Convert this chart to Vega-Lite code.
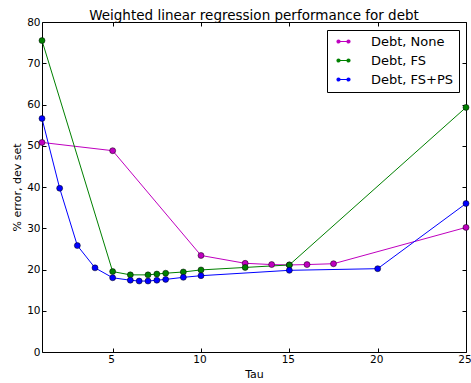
{
  "$schema": "https://vega.github.io/schema/vega-lite/v6.json",
  "width": 424,
  "height": 330,
  "autosize": {"type": "none"},
  "padding": {"left": 42, "top": 22, "right": 5, "bottom": 31},
  "background": "white",
  "title": {"text": "Weighted linear regression performance for debt", "font": "DejaVu Sans", "fontSize": 13.5, "fontWeight": "normal", "color": "black", "offset": 5, "dy": 10},
  "config": {
    "view": {"stroke": "black", "strokeWidth": 1},
    "axis": {"labelFont": "DejaVu Sans", "titleFont": "DejaVu Sans", "labelFontSize": 10.5, "titleFontSize": 11, "titleFontWeight": "normal", "labelColor": "black", "titleColor": "black", "tickColor": "black", "domain": false, "grid": false, "labelFlush": false}
  },
  "data": {"values": [
    {"series": "Debt, None", "tau": 1, "err": 50.8},
    {"series": "Debt, None", "tau": 5, "err": 48.8},
    {"series": "Debt, None", "tau": 10, "err": 23.4},
    {"series": "Debt, None", "tau": 12.5, "err": 21.5},
    {"series": "Debt, None", "tau": 14, "err": 21.2},
    {"series": "Debt, None", "tau": 15, "err": 21.1},
    {"series": "Debt, None", "tau": 16, "err": 21.2},
    {"series": "Debt, None", "tau": 17.5, "err": 21.4},
    {"series": "Debt, None", "tau": 25, "err": 30.2},
    {"series": "Debt, FS", "tau": 1, "err": 75.5},
    {"series": "Debt, FS", "tau": 5, "err": 19.5},
    {"series": "Debt, FS", "tau": 6, "err": 18.7},
    {"series": "Debt, FS", "tau": 7, "err": 18.7},
    {"series": "Debt, FS", "tau": 7.5, "err": 18.9},
    {"series": "Debt, FS", "tau": 8, "err": 19.1},
    {"series": "Debt, FS", "tau": 9, "err": 19.4},
    {"series": "Debt, FS", "tau": 10, "err": 19.9},
    {"series": "Debt, FS", "tau": 12.5, "err": 20.5},
    {"series": "Debt, FS", "tau": 15, "err": 21.1},
    {"series": "Debt, FS", "tau": 25, "err": 59.3},
    {"series": "Debt, FS+PS", "tau": 1, "err": 56.6},
    {"series": "Debt, FS+PS", "tau": 2, "err": 39.7},
    {"series": "Debt, FS+PS", "tau": 3, "err": 25.8},
    {"series": "Debt, FS+PS", "tau": 4, "err": 20.4},
    {"series": "Debt, FS+PS", "tau": 5, "err": 18.0},
    {"series": "Debt, FS+PS", "tau": 6, "err": 17.4},
    {"series": "Debt, FS+PS", "tau": 6.5, "err": 17.2},
    {"series": "Debt, FS+PS", "tau": 7, "err": 17.2},
    {"series": "Debt, FS+PS", "tau": 7.5, "err": 17.4},
    {"series": "Debt, FS+PS", "tau": 8, "err": 17.6},
    {"series": "Debt, FS+PS", "tau": 9, "err": 18.1},
    {"series": "Debt, FS+PS", "tau": 10, "err": 18.5},
    {"series": "Debt, FS+PS", "tau": 15, "err": 19.8},
    {"series": "Debt, FS+PS", "tau": 20, "err": 20.2},
    {"series": "Debt, FS+PS", "tau": 25, "err": 36.0}
  ]},
  "encoding": {
    "x": {"field": "tau", "type": "quantitative", "scale": {"domain": [1, 25], "nice": false, "zero": false}},
    "y": {"field": "err", "type": "quantitative", "scale": {"domain": [0, 80], "nice": false}},
    "color": {"field": "series", "type": "nominal", "scale": {"domain": ["Debt, None", "Debt, FS", "Debt, FS+PS"], "range": ["#bf00bf", "#008000", "#0000ff"]},
      "legend": {"title": null, "orient": "none", "legendX": 285, "legendY": 8, "direction": "vertical",
        "strokeColor": "black", "fillColor": "white", "padding": 5, "cornerRadius": 0,
        "labelFont": "DejaVu Sans", "labelFontSize": 13, "labelColor": "black", "rowPadding": 5,
        "symbolType": "M-2,0H2M-2.6,0a0.6,0.6 0 1,0 1.2,0a0.6,0.6 0 1,0 -1.2,0M1.4,0a0.6,0.6 0 1,0 1.2,0a0.6,0.6 0 1,0 -1.2,0",
        "symbolSize": 25, "symbolOffset": 5, "symbolStrokeWidth": 1.2, "labelOffset": 21}}
  },
  "layer": [
    {
      "mark": {"type": "line", "strokeWidth": 1},
      "encoding": {
        "x": {"field": "tau", "type": "quantitative", "title": "Tau", "axis": {"orient": "bottom", "values": [5, 10, 15, 20, 25], "tickSize": -4, "labelPadding": 6, "titlePadding": 4, "labelOffset": -1.5}},
        "y": {"field": "err", "type": "quantitative", "title": "% error, dev set", "axis": {"orient": "left", "values": [0, 10, 20, 30, 40, 50, 60, 70, 80], "tickSize": -4, "labelPadding": 6, "titlePadding": 4}}
      }
    },
    {
      "mark": {"type": "point", "filled": true, "size": 36, "stroke": "black", "strokeWidth": 0.5, "opacity": 1},
      "encoding": {
        "x": {"field": "tau", "type": "quantitative", "axis": {"orient": "top", "values": [5, 10, 15, 20, 25], "tickSize": -4, "labels": false, "title": null}},
        "y": {"field": "err", "type": "quantitative", "axis": {"orient": "right", "values": [0, 10, 20, 30, 40, 50, 60, 70, 80], "tickSize": -4, "labels": false, "title": null}}
      }
    }
  ],
  "resolve": {"axis": {"x": "independent", "y": "independent"}}
}
